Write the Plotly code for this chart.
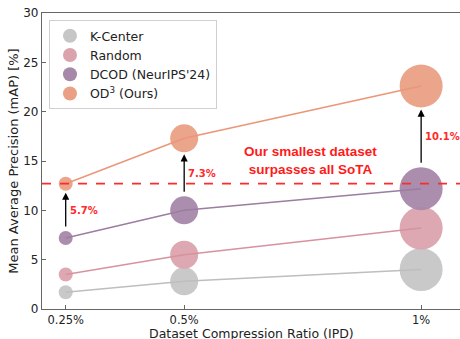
import plotly.graph_objects as go

# ---- data ----
ratios = [0.25, 0.5, 1.0]
tick_labels = ["0.25%", "0.5%", "1%"]
kcenter = [1.7, 2.8, 4.0]
random_ = [3.5, 5.5, 8.2]
dcod = [7.2, 10.0, 12.2]
od3 = [12.7, 17.3, 22.6]
gain_labels = ["5.7%", "7.3%", "10.1%"]
series_names = ["K-Center", "Random", "DCOD (NeurIPS'24)", "OD<sup>3</sup> (Ours)"]
x_title = "Dataset Compression Ratio (IPD)"
y_title = "Mean Average Precision (mAP) [%]"

# ---- style ----
marker_colors = ["#c6c6c6", "#dba3ad", "#a688a9", "#eaa085"]
line_colors = ["#bebebe", "#d6939f", "#9c7ca1", "#ec9678"]
marker_sizes = [14, 28, 43]
px_per_unit = 296 / 30.0

series = [kcenter, random_, dcod, od3]
fig = go.Figure()

for vals, mc, lc, name in zip(series, marker_colors, line_colors, series_names):
    fig.add_trace(go.Scatter(x=ratios, y=vals, mode="markers",
                             marker=dict(size=marker_sizes, color=mc, opacity=0.95, line=dict(width=0)),
                             showlegend=False, hoverinfo="skip"))
for vals, mc, lc, name in zip(series, marker_colors, line_colors, series_names):
    fig.add_trace(go.Scatter(x=ratios, y=vals, mode="lines",
                             line=dict(color=lc, width=1.5),
                             showlegend=False, hoverinfo="skip"))
for mc, name in zip(marker_colors, series_names):
    fig.add_trace(go.Scatter(x=[None], y=[None], mode="markers", name=name,
                             marker=dict(size=14, color=mc)))

# red dashed reference line at our smallest result
fig.add_shape(type="line", xref="paper", x0=0, x1=1, yref="y", y0=od3[0], y1=od3[0],
              line=dict(color="#ff2a2a", width=1.8, dash="dash"))

# gain arrows
for x, lo, hi, s, lab in zip(ratios, dcod, od3, marker_sizes, gain_labels):
    r = s / 2 / px_per_unit
    tail = lo + r + 0.3
    head = hi - r - 0.2
    fig.add_annotation(x=x, y=head, ax=x, ay=tail, xref="x", yref="y", axref="x", ayref="y",
                       showarrow=True, arrowhead=2, arrowsize=1.1, arrowwidth=1.3,
                       arrowcolor="black", text="")
    fig.add_annotation(x=x, y=(tail + head) / 2, xref="x", yref="y", text="<b>" + lab + "</b>",
                       showarrow=False, xanchor="left", xshift=2,
                       font=dict(family="DejaVu Sans", size=10, color="#ff2a2a"))

fig.add_annotation(x=0.7675, y=15.05, xref="x", yref="y",
                   text="<b>Our smallest dataset<br>surpasses all SoTA</b>", showarrow=False,
                   font=dict(family="Liberation Sans", size=13.5, color="#ff1a1a"))

# x-axis title
fig.add_annotation(x=0.5, y=0, xref="paper", yref="paper", yanchor="top", yshift=-16,
                   text=x_title, showarrow=False, borderpad=0,
                   font=dict(size=12.5, color="#222222"))

fig.update_layout(
    width=460, height=339,
    margin=dict(l=42, r=0, t=13, b=30, autoexpand=False),
    plot_bgcolor="white", paper_bgcolor="white",
    font=dict(family="DejaVu Sans", color="#222222"),
    legend=dict(x=0.0167, y=0.976, xanchor="left", yanchor="top",
                bgcolor="white", bordercolor="#d0d0d0", borderwidth=1,
                font=dict(size=12.5, color="#222222"), itemsizing="trace"),
    xaxis=dict(range=[0.2, 1.082], tickvals=ratios, ticktext=tick_labels, automargin=False,
               showgrid=False, zeroline=False, showline=True, linecolor="#666666", linewidth=1.2,
               mirror=True, ticks="inside", ticklen=4, tickcolor="#666666",
               tickfont=dict(size=11.5)),
    yaxis=dict(range=[0, 30], tickvals=[0, 5, 10, 15, 20, 25, 30], automargin=False,
               showgrid=False, zeroline=False, showline=True, linecolor="#666666", linewidth=1.2,
               ticks="inside", ticklen=4, tickcolor="#666666", tickfont=dict(size=12),
               title=dict(text=y_title, font=dict(size=13), standoff=1)),
)

fig.write_html("out.html", post_script="document.body.style.margin='0';",
               config={"displayModeBar": False})
